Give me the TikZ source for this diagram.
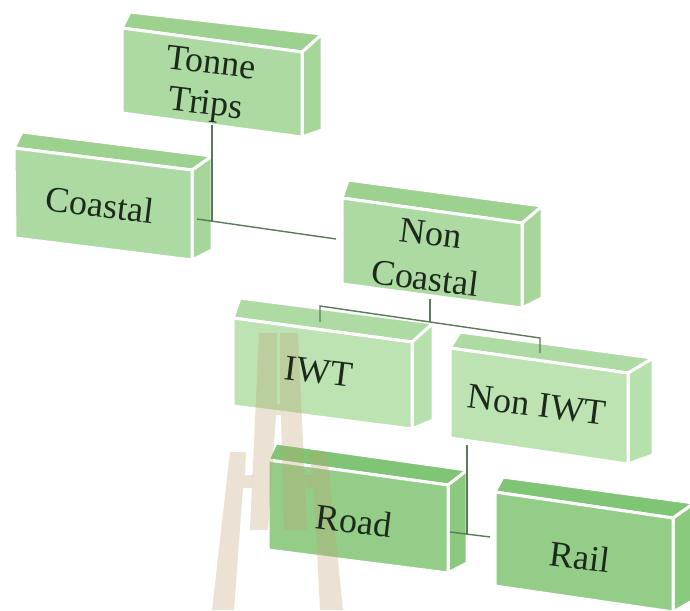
\documentclass[tikz,border=0pt]{standalone}
\usepackage{fontspec}
\setmainfont{Liberation Serif}
\definecolor{fA}{HTML}{ADDAA2}
\definecolor{tA}{HTML}{9CD190}
\definecolor{sA}{HTML}{A6D69A}
\definecolor{fB}{HTML}{BDE3B3}
\definecolor{tB}{HTML}{AEDBA3}
\definecolor{sB}{HTML}{B6E0AC}
\definecolor{fC}{HTML}{93CD88}
\definecolor{tC}{HTML}{80C475}
\definecolor{sC}{HTML}{8ACA7F}
\definecolor{linkc}{HTML}{5A7A5A}
\definecolor{txt}{HTML}{1C2A1C}
\definecolor{wmark}{HTML}{BFA070}
\tikzset{
  face/.style={draw=white, line width=3pt, line join=miter},
  lbl/.style={text=txt, font=\fontsize{36}{41}\selectfont, align=center, rotate=-7, inner sep=0pt},
  link/.style={draw=linkc, line width=1.4pt},
  wm/.style={fill=wmark, fill opacity=0.3, draw=none}
}
\begin{document}
\begin{tikzpicture}[x=1pt,y=-1pt]
\useasboundingbox (0,0) rectangle (690,610);
\clip (0,0) rectangle (690,610);
% Tonne Trips
\path[face, fill=sA] (302,52) -- (322,34) -- (322,130) -- (302,137) -- cycle;
\path[face, fill=tA] (122,28) -- (130,12) -- (322,34) -- (302,52) -- cycle;
\path[face, fill=fA] (122,28) -- (302,52) -- (302,137) -- (122,113) -- cycle;
% Coastal
\path[face, fill=sA] (192,170) -- (212,156) -- (212,250) -- (192,260) -- cycle;
\path[face, fill=tA] (14,148) -- (22,132) -- (212,156) -- (192,170) -- cycle;
\path[face, fill=fA] (14,148) -- (192,170) -- (192,260) -- (15,238) -- cycle;
% Non Coastal
\path[face, fill=sA] (522,223) -- (542,206) -- (542,298) -- (522,308) -- cycle;
\path[face, fill=tA] (342,198) -- (348,180) -- (542,206) -- (522,223) -- cycle;
\path[face, fill=fA] (342,198) -- (522,223) -- (522,308) -- (342,284) -- cycle;
% IWT
\path[face, fill=sB] (412,342) -- (433,323) -- (433,420) -- (412,429) -- cycle;
\path[face, fill=tB] (233,318) -- (240,298) -- (433,323) -- (412,342) -- cycle;
\path[face, fill=fB] (233,318) -- (412,342) -- (412,429) -- (233,406) -- cycle;
% Non IWT
\path[face, fill=sB] (628,373) -- (653,358) -- (653,455) -- (628,464) -- cycle;
\path[face, fill=tB] (450,348) -- (460,332) -- (653,358) -- (628,373) -- cycle;
\path[face, fill=fB] (450,348) -- (628,373) -- (628,464) -- (450,438) -- cycle;
% Road
\path[face, fill=sC] (448,485) -- (467,470) -- (467,563) -- (448,573) -- cycle;
\path[face, fill=tC] (268,460) -- (276,443) -- (467,470) -- (448,485) -- cycle;
\path[face, fill=fC] (268,460) -- (448,485) -- (448,573) -- (268,550) -- cycle;
% Rail
\path[face, fill=sC] (673,518) -- (694,503) -- (694,600) -- (673,612) -- cycle;
\path[face, fill=tC] (495,492) -- (503,477) -- (694,503) -- (673,518) -- cycle;
\path[face, fill=fC] (495,492) -- (673,518) -- (673,612) -- (495,586) -- cycle;
% watermark
\path[wm] (259,333) -- (277,333) -- (277,404) -- (280,404) -- (280,333) -- (298,333)
  -- (307,530) -- (284,530) -- (281,415) -- (276,415) -- (268,530) -- (250,530) -- cycle;
\path[wm] (230,452) -- (246,452) -- (245,475) -- (253,475) -- (252,488) -- (243,488)
  -- (234,610) -- (212,610) -- cycle;
\path[wm] (310,452) -- (327,452) -- (343,610) -- (320,610) -- (314,488) -- (306,488) -- (305,475) -- (312,475) -- cycle;
% connection points
\coordinate (ttb) at (212,125);
\coordinate (j1) at (212,221);
\coordinate (cor) at (197,219);
\coordinate (ncl) at (336,239);
\coordinate (ncb) at (430,299);
\coordinate (j2) at (430,322);
\coordinate (bl) at (320,306);
\coordinate (br) at (540,338);
\coordinate (iwtt) at (320,322);
\coordinate (niwtt) at (540,353);
\coordinate (niwb) at (467,445);
\coordinate (j3) at (467,535);
\coordinate (roadr) at (450,532);
\coordinate (raill) at (490,537);
% connectors
\draw[link] (ttb) -- (j1);
\draw[link] (cor) -- (ncl);
\draw[link] (ncb) -- (j2);
\draw[link] (iwtt) -- (bl) -- (br) -- (niwtt);
\draw[link] (niwb) -- (j3);
\draw[link] (roadr) -- (raill);
% labels
\node[lbl] (tt) at (208,86) {Tonne\\Trips};
\node[lbl, font=\fontsize{36}{45}\selectfont] (nc) at (428,256) {Non\\Coastal};
\node[lbl] (co) at (100,205) {Coastal};
\node[lbl] (iwt) at (319,372) {IWT};
\node[lbl] (niwt) at (537,405) {Non IWT};
\node[lbl] (road) at (354,521) {Road};
\node[lbl] (rail) at (580,557) {Rail};
\end{tikzpicture}
\end{document}
